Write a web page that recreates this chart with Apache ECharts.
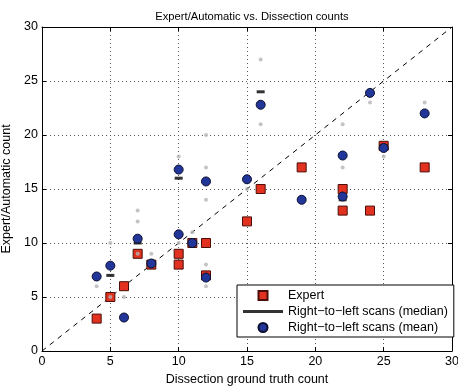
<!DOCTYPE html>
<html>
<head>
<meta charset="utf-8">
<script src="https://cdn.jsdelivr.net/npm/echarts@6/dist/echarts.min.js"></script>
<style>
html, body { margin: 0; padding: 0; background: #fff; }
#container { width: 458px; height: 387px; }
</style>
</head>
<body>
<div id="container"></div>
<script>
// data: [ground truth, count]
var expertPoints = [
    [4, 3], [5, 5], [6, 6], [7, 9], [8, 8], [10, 9], [10, 8], [11, 10], [12, 10],
    [12, 7], [15, 12], [16, 15], [19, 17], [22, 15], [22, 13], [24, 13], [25, 19], [28, 17]
];
var medianPoints = [
    [5, 7], [7, 10], [10, 16], [16, 24], [22, 14], [25, 19]
];
var meanPoints = [
    [4, 6.9], [5, 7.9], [6, 3.1], [7, 10.4], [8, 8.1], [10, 10.8], [10, 16.8], [11, 10],
    [12, 6.8], [12, 15.7], [15, 15.9], [16, 22.8], [19, 14], [22, 18.1], [22, 14.3],
    [24, 23.9], [25, 18.8], [28, 22]
];
// individual scans (grey dots)
var scanPoints = [
    [4, 6], [5, 10], [5, 5], [6, 5], [7, 13], [7, 12], [7, 9], [8, 9], [10, 18], [10, 10],
    [11, 11], [12, 20], [12, 17], [12, 14], [12, 8], [12, 6], [15, 15], [16, 27], [16, 21],
    [22, 21], [22, 17], [24, 23], [25, 18], [28, 23]
];
var identityLine = [[0, 0], [30, 30]];
var axisTicks = { min: 0, max: 30, interval: 5 };

var seriesNames = ['Expert', 'Right\u2212to\u2212left scans (median)', 'Right\u2212to\u2212left scans (mean)'];

var dom = document.getElementById('container');
var myChart = echarts.init(dom, null, { renderer: 'canvas' });
var option;

var fontFam = '"Liberation Sans", Arial, sans-serif';

function baseAxis(show) {
    return {
        type: 'value',
        min: axisTicks.min,
        max: axisTicks.max,
        interval: axisTicks.interval,
        axisLine: { show: true, onZero: false, lineStyle: { color: '#000', width: 1 } },
        axisTick: { show: true, inside: true, length: 4, lineStyle: { color: '#000' } },
        axisLabel: { show: show, color: '#000', fontSize: 12.5, fontFamily: fontFam, margin: 4 },
        splitLine: { show: show, lineStyle: { color: '#555', type: [1, 3], width: 1 } }
    };
}

var xBottom = baseAxis(true);
xBottom.position = 'bottom';
xBottom.name = 'Dissection ground truth count';
xBottom.nameLocation = 'middle';
xBottom.nameGap = 21;
xBottom.nameTextStyle = { color: '#000', fontSize: 12.5, fontFamily: fontFam };
var xTop = baseAxis(false);
xTop.position = 'top';

var yLeft = baseAxis(true);
yLeft.position = 'left';
yLeft.name = 'Expert/Automatic count';
yLeft.nameLocation = 'middle';
yLeft.nameGap = 25;
yLeft.nameTextStyle = { color: '#000', fontSize: 12.5, fontFamily: fontFam };
var yRight = baseAxis(false);
yRight.position = 'right';

option = {
    animation: false,
    backgroundColor: '#fff',
    title: {
        text: 'Expert/Automatic vs. Dissection counts',
        left: 247,
        top: 6,
        textAlign: 'center',
        textStyle: { fontSize: 11.2, fontWeight: 'normal', color: '#000', fontFamily: fontFam }
    },
    grid: { left: 42, top: 27, width: 410, height: 324, containLabel: false, outerBoundsMode: 'none' },
    xAxis: [xBottom, xTop],
    yAxis: [yLeft, yRight],
    legend: {
        orient: 'vertical',
        left: 237,
        top: 285,
        padding: [4, 6, 3, 6],
        itemWidth: 40,
        itemHeight: 9,
        itemGap: 3,
        backgroundColor: '#fff',
        borderColor: '#000',
        borderWidth: 1,
        borderRadius: 0,
        textStyle: { color: '#000', fontSize: 12.5, fontFamily: fontFam },
        data: [
            { name: seriesNames[0], icon: 'path://M0,0L10,0L10,10L0,10Z' },
            { name: seriesNames[1], icon: 'path://M0,0L40,0L40,3L0,3Z' },
            { name: seriesNames[2], icon: 'path://M5,0A5,5,0,1,1,5,10A5,5,0,1,1,5,0Z' }
        ]
    },
    series: [
        {
            name: 'identity',
            type: 'line',
            data: identityLine,
            symbol: 'none',
            silent: true,
            lineStyle: { color: '#000', width: 1, type: [5, 5] },
            z: 1
        },
        {
            name: seriesNames[0],
            type: 'scatter',
            data: expertPoints,
            symbol: 'rect',
            symbolSize: 9,
            itemStyle: { color: '#e2321f', borderColor: '#4a0d08', borderWidth: 1, opacity: 1 },
            z: 2
        },
        {
            name: 'scans',
            type: 'scatter',
            data: scanPoints,
            symbol: 'circle',
            symbolSize: 4,
            itemStyle: { color: '#b4b4b4' },
            z: 3
        },
        {
            name: seriesNames[1],
            type: 'scatter',
            data: medianPoints,
            symbol: 'rect',
            symbolSize: [8, 3],
            itemStyle: { color: '#000' },
            z: 4
        },
        {
            name: seriesNames[2],
            type: 'scatter',
            data: meanPoints,
            symbol: 'circle',
            symbolSize: 9,
            itemStyle: { color: '#22369a', borderColor: '#0a0f30', borderWidth: 1, opacity: 1 },
            z: 5
        }
    ]
};

if (option && typeof option === 'object') {
    myChart.setOption(option);
}

window.addEventListener('resize', myChart.resize);
</script>
</body>
</html>
